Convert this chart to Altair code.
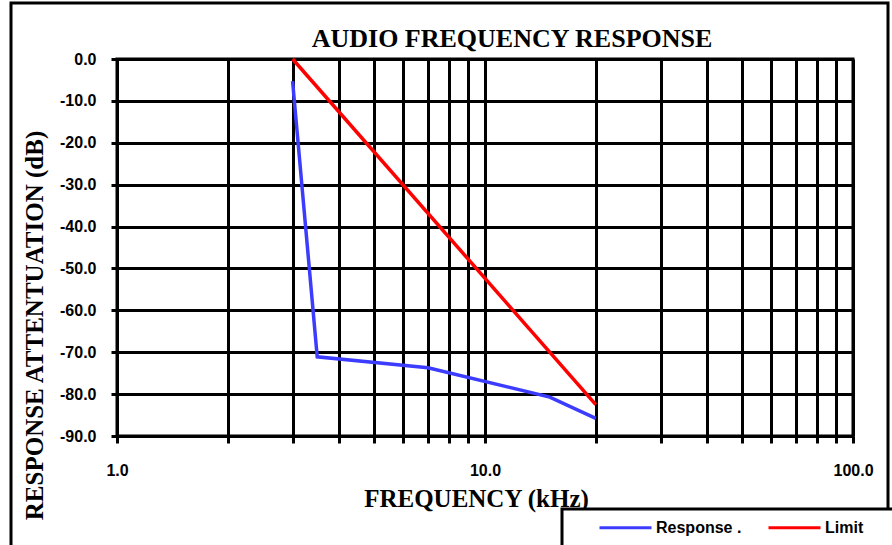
import altair as alt
import pandas as pd

# Measured response and spec limit (frequency in kHz, attenuation in dB)
resp_khz = [3.0, 3.5, 7.0, 15.0, 20.0]
resp_db = [-5.3, -71.1, -73.7, -80.7, -85.8]
limit_khz = [3.0, 20.0]
limit_db = [0.0, -82.5]

series_names = ["Response .", "Limit"]
series_colors = ["#3c3cff", "#ff0000"]

# Log-decade grid positions and dB grid
x_grid = [1, 2, 3, 4, 5, 6, 7, 8, 9, 10, 20, 30, 40, 50, 60, 70, 80, 90, 100]
y_ticks = [-90, -80, -70, -60, -50, -40, -30, -20, -10, 0]

chart_title = "AUDIO FREQUENCY RESPONSE"
x_title = "FREQUENCY (kHz)"
y_title = "RESPONSE ATTENTUATION (dB)"

rows = [{"khz": f, "db": d, "series": series_names[0]} for f, d in zip(resp_khz, resp_db)]
rows += [{"khz": f, "db": d, "series": series_names[1]} for f, d in zip(limit_khz, limit_db)]
df = pd.DataFrame(rows)

SERIF = "Liberation Serif"
SANS = "Liberation Sans"

x_axis = alt.Axis(
    values=x_grid,
    labelExpr="(datum.value == 1 || datum.value == 10 || datum.value == 100) ? format(datum.value, '.1f') : ''",
    title=x_title,
    titleFont=SERIF, titleFontSize=25, titleFontWeight="bold", titleColor="black",
    titleX=359, titleY=70, titleBaseline="alphabetic", titleAlign="center",
    labelFont=SANS, labelFontSize=16, labelFontWeight="bold", labelColor="black",
    labelPadding=19, labelFlush=False, labelOverlap=False,
    grid=True, gridColor="black", gridWidth=3, gridOpacity=1,
    domainColor="black", domainWidth=3,
    tickColor="black", tickWidth=3, tickSize=7,
)

y_axis = alt.Axis(
    values=y_ticks,
    labelExpr="(datum.value < 0 ? '-' : '') + format(abs(datum.value), '.1f')",
    title=y_title,
    titleFont=SERIF, titleFontSize=25, titleFontWeight="bold", titleColor="black",
    titleAngle=270, titleX=-75, titleY=266, titleBaseline="alphabetic", titleAlign="center",
    labelFont=SANS, labelFontSize=16, labelFontWeight="bold", labelColor="black",
    labelPadding=15, labelFlush=False, labelOverlap=False,
    grid=True, gridColor="black", gridWidth=3, gridOpacity=1,
    domainColor="black", domainWidth=3,
    tickColor="black", tickWidth=3, tickSize=6,
)

lines = alt.Chart(df).mark_line(strokeWidth=3.5).encode(
    x=alt.X("khz:Q", scale=alt.Scale(type="log", domain=[1, 100], nice=False), axis=x_axis),
    y=alt.Y("db:Q", scale=alt.Scale(domain=[-90, 0], nice=False), axis=y_axis),
    color=alt.Color(
        "series:N",
        scale=alt.Scale(domain=series_names, range=series_colors),
        legend=alt.Legend(
            title=None, orient="none", legendX=481, legendY=441,
            direction="horizontal", symbolType="stroke", symbolSize=2704,
            symbolStrokeWidth=3, labelFont=SANS, labelFontSize=16,
            labelFontWeight="bold", labelColor="black", labelOffset=3,
            columnPadding=20, padding=0,
        ),
    ),
    order=alt.Order("khz:Q"),
)

one = alt.Data(values=[{}])

# Outer frame around the whole figure
frame = alt.Chart(one).mark_rect(filled=False, stroke="black", strokeWidth=3).encode(
    x=alt.value(-106), x2=alt.value(771), y=alt.value(-56), y2=alt.value(500)
)

# Box holding the legend
legend_box = alt.Chart(one).mark_rect(fill="white", stroke="black", strokeWidth=3).encode(
    x=alt.value(445), x2=alt.value(800), y=alt.value(450), y2=alt.value(500)
)

# Chart heading above the plot
heading = alt.Chart(one).mark_text(
    font=SERIF, fontSize=26, fontWeight="bold", color="black",
    align="center", baseline="alphabetic",
).encode(x=alt.value(395), y=alt.value(-12), text=alt.value(chart_title))

chart = alt.layer(frame, legend_box, heading, lines).properties(
    width=736,
    height=377,
    autosize=alt.AutoSizeParams(type="none"),
    padding={"left": 117, "top": 59, "right": 39, "bottom": 109},
    background="white",
).configure_view(stroke="black", strokeWidth=3)

chart.save("out.html", embed_options={"renderer": "svg", "actions": False})
